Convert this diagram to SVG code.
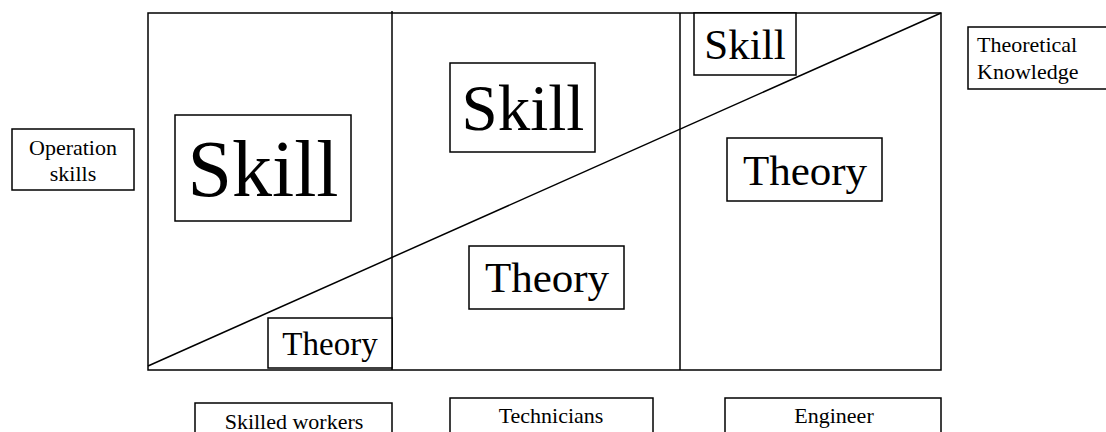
<svg xmlns="http://www.w3.org/2000/svg" width="1106" height="432" viewBox="0 0 1106 432">
  <style>
    .frame { fill: none; stroke: #000; stroke-width: 1.5; }
    .box { fill: #fff; stroke: #000; stroke-width: 1.5; }
    text { fill: #000; }
    .t { text-anchor: middle; }
  </style>
  <rect width="1106" height="432" fill="#fff"/>

  <!-- frame, column dividers and the skill/theory diagonal -->
  <g id="connectors">
    <rect class="frame" x="148" y="13" width="793" height="357"/>
    <line class="frame" x1="392" y1="11" x2="392" y2="370"/>
    <line class="frame" x1="680" y1="13" x2="680" y2="370"/>
    <line class="frame" x1="148" y1="366" x2="941" y2="13"/>
  </g>

  <g font-family="Liberation Serif, DejaVu Serif, serif">
    <g id="skill-workers">
      <rect class="box" x="175" y="115" width="176" height="106"/>
      <text class="t" x="263" y="196" font-size="80">Skill</text>
    </g>
    <g id="theory-workers">
      <rect class="box" x="268" y="318" width="124" height="50"/>
      <text class="t" x="330" y="355" font-size="33">Theory</text>
    </g>

    <g id="skill-technicians">
      <rect class="box" x="450" y="63" width="145" height="89"/>
      <text class="t" x="523" y="130" font-size="65">Skill</text>
    </g>
    <g id="theory-technicians">
      <rect class="box" x="469" y="246" width="155" height="63"/>
      <text class="t" x="547" y="292" font-size="43">Theory</text>
    </g>

    <g id="skill-engineer">
      <rect class="box" x="694" y="13" width="102" height="62"/>
      <text class="t" x="745" y="59" font-size="43">Skill</text>
    </g>
    <g id="theory-engineer">
      <rect class="box" x="727" y="138" width="155" height="63"/>
      <text class="t" x="805" y="185" font-size="43">Theory</text>
    </g>

    <g id="operation-skills">
      <rect class="box" x="12" y="129" width="122" height="61"/>
      <text class="t" x="73" y="155" font-size="22">Operation</text>
      <text class="t" x="73" y="181" font-size="22">skills</text>
    </g>

    <g id="theoretical-knowledge">
      <rect class="box" x="968" y="27" width="140" height="62"/>
      <text x="977" y="52" font-size="22">Theoretical</text>
      <text x="977" y="79" font-size="22">Knowledge</text>
    </g>

    <g id="skilled-workers">
      <rect class="box" x="195" y="403" width="197" height="40"/>
      <text class="t" x="294" y="429" font-size="22">Skilled workers</text>
    </g>
    <g id="technicians">
      <rect class="box" x="450" y="398" width="203" height="45"/>
      <text class="t" x="551" y="423" font-size="22">Technicians</text>
    </g>
    <g id="engineer">
      <rect class="box" x="725" y="398" width="216" height="45"/>
      <text class="t" x="834" y="423" font-size="22">Engineer</text>
    </g>
  </g>
</svg>
